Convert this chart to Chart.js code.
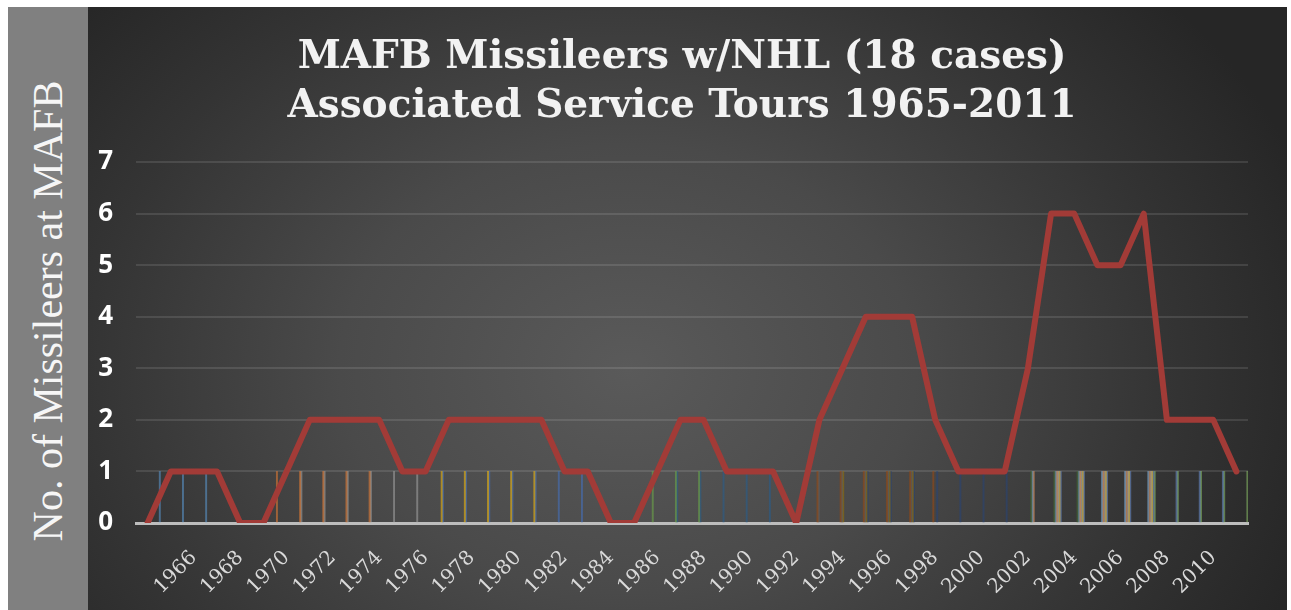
<!DOCTYPE html>
<html>
<head>
<meta charset="utf-8">
<script src="https://cdn.jsdelivr.net/npm/chart.js@4.4.1/dist/chart.umd.min.js"></script>
<style>
  html, body { margin: 0; padding: 0; background: #ffffff; }
  #wrap { position: absolute; left: 0; top: 0; width: 1291px; height: 610px; background: #ffffff; overflow: hidden; }
  #band { position: absolute; left: 8px; top: 7px; width: 80px; height: 603px; background: #808080; }
  #ytitle { position: absolute; left: 48px; top: 311px; transform: translate(-50%, -50%) rotate(-90deg);
            font-family: "Liberation Serif", serif; font-size: 42px; line-height: 1; color: #f6f6f6; white-space: nowrap; }
  #plot { position: absolute; left: 88px; top: 7px; width: 1199px; height: 603px;
          background: radial-gradient(ellipse 720px 560px at 45% 60%, #5a5a5a 0%, #4a4a4a 40%, #343434 75%, #262626 100%); }
  #plot canvas { position: absolute; left: 0; top: 0; }
</style>
</head>
<body>
<div id="wrap">
  <div id="band"></div>
  <div id="ytitle"></div>
  <div id="plot"><canvas id="c" width="1199" height="603"></canvas></div>
</div>
<script>
// ---- data ----
const years = ['', '1965', '1966', '1967', '1968', '1969', '1970', '1971', '1972', '1973', '1974',
  '1975', '1976', '1977', '1978', '1979', '1980', '1981', '1982', '1983', '1984',
  '1985', '1986', '1987', '1988', '1989', '1990', '1991', '1992', '1993', '1994',
  '1995', '1996', '1997', '1998', '1999', '2000', '2001', '2002', '2003', '2004',
  '2005', '2006', '2007', '2008', '2009', '2010', '2011'];
const missileers = [0, 1, 1, 1, 0, 0, 1, 2, 2, 2, 2, 1, 1, 2, 2, 2, 2, 2, 1, 1,
  0, 0, 1, 2, 2, 1, 1, 1, 0, 2, 3, 4, 4, 4, 2, 1, 1, 1, 3, 6,
  6, 5, 5, 6, 2, 2, 2, 1];
// individual service tours (thin columns), one per case
const caseStart = [1965, 1970, 1971, 1977, 1977, 1986, 1987, 1993, 1993, 1994, 1995, 2002, 2002, 2002, 2003, 2003, 2003, 2007];
const caseEnd   = [1967, 1974, 1976, 1981, 1983, 1988, 1991, 1998, 1997, 1997, 2001, 2004, 2007, 2007, 2007, 2007, 2010, 2011];
const yMin = 0, yMax = 7, yStep = 1;
const titleLines = ['MAFB Missileers w/NHL (18 cases)', 'Associated Service Tours 1965-2011'];
const yAxisTitle = 'No. of Missileers at MAFB';

document.getElementById('ytitle').textContent = yAxisTitle;

const caseColors = ['#5B9BD5', '#ED7D31', '#A5A5A5', '#FFC000', '#4472C4', '#70AD47', '#255E91', '#9E480E', '#636363',
  '#997300', '#264478', '#43682B', '#7CAFDD', '#F1975A', '#B7B7B7', '#FFCD33', '#698ED0', '#8CC168'];
function alpha(hex, a) {
  const n = parseInt(hex.slice(1), 16);
  return 'rgba(' + ((n >> 16) & 255) + ',' + ((n >> 8) & 255) + ',' + (n & 255) + ',' + a + ')';
}

const barSets = caseStart.map((s, k) => ({
  type: 'bar',
  label: 'Case ' + (k + 1),
  data: years.map(y => (y !== '' && +y >= s && +y <= caseEnd[k]) ? 1 : null),
  backgroundColor: alpha(caseColors[k], 0.55),
  borderWidth: 0,
  categoryPercentage: 1.0,
  barPercentage: 1.0,
  order: 2
}));

const lineSet = {
  type: 'line',
  label: 'Missileers',
  data: missileers,
  borderColor: '#a23b37',
  backgroundColor: '#a23b37',
  borderWidth: 6,
  pointRadius: 0,
  tension: 0,
  borderJoinStyle: 'round',
  borderCapStyle: 'round',
  order: 0
};

new Chart(document.getElementById('c'), {
  type: 'bar',
  data: { labels: years, datasets: [lineSet, ...barSets] },
  options: {
    responsive: false,
    animation: false,
    layout: { padding: { left: 0, right: 11, top: 0, bottom: 0 } },
    plugins: {
      legend: { display: false },
      tooltip: { enabled: false },
      title: {
        display: true,
        text: titleLines,
        color: '#f2f2f2',
        font: { family: 'DejaVu Serif', weight: 'bold', size: 39, lineHeight: 1.27 },
        padding: { top: 26, bottom: 30 }
      }
    },
    scales: {
      x: {
        offset: true,
        grid: { display: false, drawTicks: false },
        border: { display: true, color: '#bdbdbd', width: 3 },
        ticks: {
          autoSkip: false,
          maxRotation: 45,
          minRotation: 45,
          padding: 23,
          labelOffset: 0,
          color: '#d9d9d9',
          font: { family: 'DejaVu Serif', size: 20 },
          callback: (v, i) => (i > 0 && i % 2 === 0) ? years[i] : ''
        },
        afterFit: s => { s.height = 87; }
      },
      y: {
        position: 'left',
        min: yMin,
        max: yMax,
        grid: {
          color: c => (c.tick && c.tick.value === 0) ? 'rgba(0,0,0,0)' : 'rgba(255,255,255,0.11)',
          lineWidth: 2,
          drawTicks: false
        },
        border: { display: false },
        ticks: {
          stepSize: yStep,
          color: '#ffffff',
          padding: 23,
          font: { family: 'Open Sans', weight: 'bold', size: 26 },
          callback: v => String(v)
        },
        afterFit: s => { s.width = 48; }
      },
      yRightSpace: {
        position: 'right',
        display: true,
        min: yMin,
        max: yMax,
        grid: { display: false, drawTicks: false },
        border: { display: false },
        ticks: { display: false },
        afterFit: s => { s.width = 28; }
      }
    }
  }
});
</script>
</body>
</html>
